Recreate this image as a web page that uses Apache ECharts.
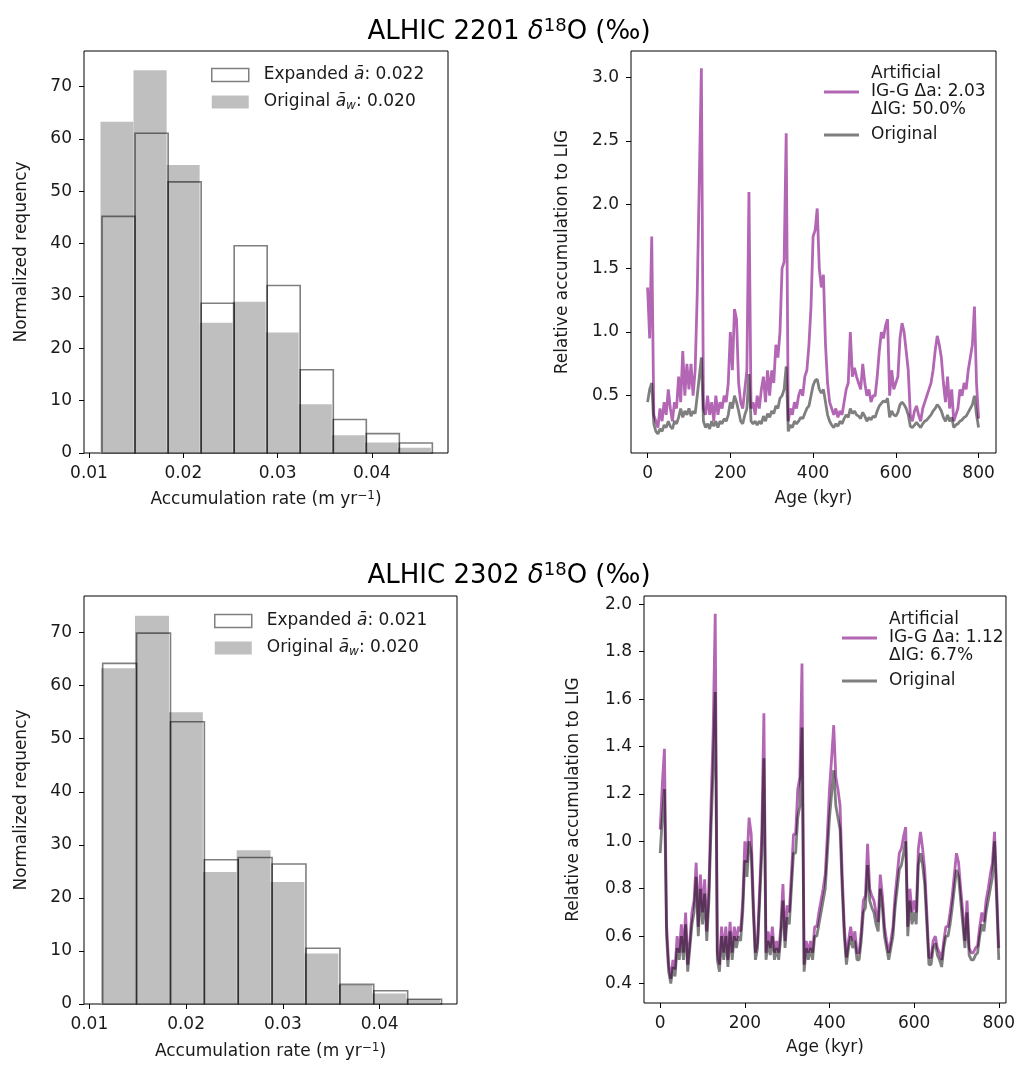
<!DOCTYPE html>
<html><head><meta charset="utf-8">
<script src="https://cdn.jsdelivr.net/npm/echarts@6/dist/echarts.min.js"></script>
<style>html,body{margin:0;padding:0;background:#fff}#c{width:1018px;height:1065px}</style>
</head><body><div id="c"></div>
<script>
// ---------- DATA ----------
// Histogram bin edges (accumulation rate, m/yr)
const origEdges = [0.01122,0.01472,0.01823,0.02173,0.02523,0.02873,0.03223,0.03574,0.03924,0.04274,0.04624];
const expEdges  = [0.01138,0.01488,0.01839,0.02189,0.02539,0.02889,0.03239,0.03590,0.03940,0.04290,0.04640];
// Normalized frequency per bin
const orig2201 = [63.3,73.1,55.0,24.9,28.9,23.0,9.3,3.4,2.0,1.0];
const exp2201  = [45.2,61.1,51.8,28.6,39.6,32.0,15.9,6.4,3.7,1.9];
const orig2302 = [63.3,73.2,55.0,24.9,29.0,23.0,9.5,3.6,2.0,0.9];
const exp2302  = [64.2,69.9,53.2,27.2,27.6,26.4,10.5,3.7,2.5,0.9];

// Age axis samples (kyr), 0..800 every 5 kyr
const AGE_STEP = 5;
// Relative accumulation to LIG, ALHIC 2201
const art2201 = [
1.35,0.95,1.75,0.35,0.3,0.25,0.4,0.3,0.45,0.35,
0.55,0.4,0.3,0.45,0.4,0.65,0.45,0.85,0.5,0.75,
0.55,0.75,0.5,0.7,1.3,2.2,3.07,0.4,0.35,0.5,
0.35,0.45,0.3,0.5,0.35,0.45,0.4,0.5,0.45,0.6,
1.0,0.7,1.18,1.1,0.6,0.45,0.4,0.55,0.7,2.1,
0.4,0.45,0.35,0.5,0.4,0.55,0.65,0.45,0.7,0.5,
0.7,0.6,0.9,0.8,1.0,1.5,1.55,2.56,0.3,0.4,
0.35,0.45,0.4,0.5,0.55,0.5,0.65,0.7,0.9,1.2,
1.75,1.8,1.97,1.5,1.35,1.45,0.9,0.6,0.45,0.4,
0.35,0.4,0.33,0.38,0.35,0.45,0.55,0.6,1.0,0.65,
0.72,0.65,0.6,0.55,0.75,0.6,0.5,0.55,0.45,0.5,
0.5,0.65,0.85,1.0,0.95,1.05,1.1,0.5,0.7,0.55,
0.6,0.65,0.95,1.07,1.0,0.85,0.7,0.35,0.3,0.38,
0.42,0.35,0.3,0.4,0.45,0.5,0.55,0.6,0.7,0.85,
0.97,0.9,0.8,0.6,0.45,0.65,0.4,0.55,0.3,0.35,
0.4,0.55,0.5,0.6,0.55,0.7,0.8,0.9,1.2,0.6,
0.32];
const orig2201Line = [
0.45,0.55,0.6,0.28,0.22,0.2,0.24,0.22,0.27,0.25,
0.3,0.26,0.24,0.3,0.28,0.33,0.4,0.33,0.38,0.35,
0.4,0.34,0.38,0.36,0.5,0.65,0.8,0.3,0.25,0.28,
0.24,0.3,0.26,0.3,0.25,0.3,0.28,0.32,0.3,0.35,
0.45,0.4,0.5,0.45,0.38,0.3,0.28,0.35,0.4,0.67,
0.3,0.28,0.3,0.27,0.3,0.28,0.34,0.3,0.36,0.33,
0.38,0.36,0.42,0.4,0.48,0.5,0.55,0.73,0.22,0.27,
0.25,0.3,0.28,0.3,0.33,0.32,0.36,0.4,0.42,0.5,
0.58,0.62,0.63,0.55,0.52,0.55,0.45,0.35,0.3,0.27,
0.25,0.28,0.26,0.3,0.28,0.32,0.35,0.33,0.4,0.36,
0.38,0.35,0.34,0.32,0.37,0.34,0.3,0.33,0.31,0.34,
0.33,0.38,0.42,0.44,0.46,0.45,0.48,0.33,0.38,0.35,
0.34,0.37,0.43,0.45,0.43,0.4,0.35,0.26,0.25,0.27,
0.29,0.27,0.25,0.28,0.3,0.31,0.33,0.35,0.38,0.4,
0.43,0.41,0.38,0.33,0.3,0.35,0.3,0.33,0.25,0.27,
0.28,0.3,0.31,0.33,0.34,0.37,0.4,0.43,0.5,0.35,
0.25];
// Relative accumulation to LIG, ALHIC 2302
const art2302 = [
1.05,1.24,1.39,0.65,0.48,0.42,0.5,0.46,0.6,0.53,
0.65,0.53,0.7,0.48,0.58,0.7,0.75,0.91,0.64,0.86,
0.7,0.84,0.62,0.8,1.15,1.45,1.96,0.53,0.48,0.64,
0.53,0.64,0.5,0.66,0.53,0.64,0.58,0.64,0.62,0.75,
1.0,0.91,1.1,1.03,0.75,0.53,0.58,0.8,1.03,1.54,
0.53,0.62,0.55,0.64,0.53,0.58,0.53,0.64,0.82,0.58,
0.73,0.7,0.86,1.03,1.03,1.22,1.27,1.75,0.48,0.58,
0.53,0.58,0.53,0.64,0.64,0.7,0.75,0.8,0.86,1.03,
1.22,1.35,1.49,1.27,1.22,1.15,0.86,0.64,0.51,0.58,
0.64,0.58,0.62,0.53,0.53,0.62,0.75,0.77,0.99,0.8,
0.77,0.75,0.7,0.66,0.86,0.77,0.64,0.58,0.53,0.58,
0.64,0.77,0.86,0.95,0.97,1.02,1.06,0.64,0.8,0.7,
0.75,0.7,0.97,1.04,0.97,0.88,0.7,0.51,0.51,0.58,
0.6,0.55,0.53,0.5,0.58,0.64,0.64,0.7,0.77,0.86,
0.95,0.91,0.8,0.7,0.58,0.75,0.55,0.53,0.53,0.55,
0.56,0.64,0.7,0.66,0.75,0.8,0.86,0.91,1.04,0.8,
0.55];
const orig2302Line = [
0.95,1.1,1.22,0.6,0.45,0.4,0.47,0.43,0.55,0.5,
0.6,0.5,0.65,0.45,0.55,0.65,0.7,0.85,0.6,0.8,
0.65,0.78,0.58,0.75,1.05,1.3,1.63,0.5,0.45,0.6,
0.5,0.6,0.47,0.62,0.5,0.6,0.55,0.6,0.58,0.7,
0.92,0.85,1.0,0.95,0.7,0.5,0.55,0.75,0.95,1.35,
0.5,0.58,0.52,0.6,0.5,0.55,0.5,0.6,0.75,0.55,
0.68,0.65,0.8,0.95,0.95,1.1,1.15,1.48,0.45,0.55,
0.5,0.55,0.5,0.6,0.6,0.65,0.7,0.75,0.8,0.95,
1.1,1.2,1.3,1.15,1.1,1.05,0.8,0.6,0.48,0.55,
0.6,0.55,0.58,0.5,0.5,0.58,0.7,0.72,0.9,0.75,
0.72,0.7,0.65,0.62,0.8,0.72,0.6,0.55,0.5,0.55,
0.6,0.72,0.8,0.88,0.9,0.95,1.0,0.6,0.75,0.65,
0.7,0.65,0.9,0.95,0.9,0.82,0.65,0.48,0.48,0.55,
0.57,0.52,0.5,0.47,0.55,0.6,0.6,0.65,0.72,0.8,
0.88,0.85,0.75,0.65,0.55,0.7,0.52,0.5,0.5,0.52,
0.53,0.6,0.65,0.62,0.7,0.75,0.8,0.85,1.0,0.75,
0.5];

// Tick values
const HIST_X_TICKS = [0.01,0.02,0.03,0.04];
const HIST_Y_TICKS = [0,10,20,30,40,50,60,70];
const AGE_TICKS = [0,200,400,600,800];
const REL_TICKS_2201 = [0.5,1.0,1.5,2.0,2.5,3.0];
const REL_TICKS_2302 = [0.4,0.6,0.8,1.0,1.2,1.4,1.6,1.8,2.0];

// Text
const LEGEND_TEXT = {
  exp2201: 'Expanded {i|ā}: 0.022',
  orig2201: 'Original {i|ā}{w|w}: 0.020',
  exp2302: 'Expanded {i|ā}: 0.021',
  orig2302: 'Original {i|ā}{w|w}: 0.020',
  art2201: 'Artificial\nIG-G Δa: 2.03\nΔIG: 50.0%',
  ol2201: 'Original',
  art2302: 'Artificial\nIG-G Δa: 1.12\nΔIG: 6.7%',
  ol2302: 'Original'
};

// ---------- BUILD ----------
const FONT = 'DejaVu Sans';
const TXT = '#1a1a1a';
const ages = art2201.map((_, i) => i * AGE_STEP);
const pairs = arr => arr.map((v, i) => [ages[i], v]);
const hist = (edges, vals) => vals.map((v, i) => [edges[i], edges[i + 1], v]);

const PURPLE = 'rgba(128,0,128,0.6)';
const GREYLINE = 'rgba(0,0,0,0.5)';
const FILL = '#bfbfbf';
const EDGE = 'rgba(0,0,0,0.5)';

function rectRender(style) {
  return function (params, api) {
    const a = api.coord([api.value(0), api.value(2)]);
    const b = api.coord([api.value(1), 0]);
    return { type: 'rect', shape: { x: a[0], y: a[1], width: b[0] - a[0], height: b[1] - a[1] }, style: style };
  };
}

const richName = {
  n: { fontFamily: FONT, fontSize: 17, color: TXT, lineHeight: 20 },
  s: { fontFamily: FONT, fontSize: 12, color: TXT, verticalAlign: 'top', lineHeight: 8 }
};

function valAxis(grid, min, max, ticks, fmt, name, gap) {
  return {
    type: 'value', gridIndex: grid, min: min, max: max,
    axisLine: { show: false, onZero: false },
    axisTick: { show: true, length: 5, customValues: ticks, lineStyle: { color: '#000', width: 1 } },
    axisLabel: { customValues: ticks, formatter: fmt, fontFamily: FONT, fontSize: 17, color: TXT, margin: 12 },
    splitLine: { show: false },
    name: name, nameLocation: 'middle', nameGap: gap,
    nameTextStyle: { fontFamily: FONT, fontSize: 17, color: TXT, rich: richName }
  };
}

const accName = '{n|Accumulation rate (m yr}{s|−1}{n|)}';
const legendText = {
  fontFamily: FONT, fontSize: 17, color: TXT, lineHeight: 20,
  rich: {
    i: { fontFamily: FONT, fontSize: 17, fontStyle: 'italic', color: TXT },
    w: { fontFamily: FONT, fontSize: 12, fontStyle: 'italic', color: TXT, verticalAlign: 'bottom' }
  }
};
const lineLegendText = { fontFamily: FONT, fontSize: 17, color: TXT, lineHeight: 18, padding: [0, 0, 0, 7] };

const titleRich = {
  n: { fontFamily: FONT, fontSize: 26, fontWeight: 'normal', color: '#000', lineHeight: 30 },
  d: { fontFamily: FONT, fontSize: 26, fontWeight: 'normal', fontStyle: 'italic', color: '#000', lineHeight: 30 },
  s: { fontFamily: FONT, fontSize: 18, fontWeight: 'normal', color: '#000', verticalAlign: 'top', lineHeight: 14 }
};

const option = {
  backgroundColor: '#fff',
  animation: false,
  title: [
    { text: '{n|ALHIC 2201 }{d|δ}{s|18}{n|O (‰)}', left: 'center', top: 12,
      textStyle: { fontWeight: 'normal', rich: titleRich } },
    { text: '{n|ALHIC 2302 }{d|δ}{s|18}{n|O (‰)}', left: 'center', top: 556,
      textStyle: { fontWeight: 'normal', rich: titleRich } }
  ],
  grid: [
    { left: 84, top: 51, width: 364, height: 402, show: true, borderColor: '#000', borderWidth: 1 },
    { left: 631, top: 51, width: 365, height: 402, show: true, borderColor: '#000', borderWidth: 1 },
    { left: 84, top: 596, width: 373, height: 408, show: true, borderColor: '#000', borderWidth: 1 },
    { left: 644, top: 596, width: 372, height: 407, show: true, borderColor: '#000', borderWidth: 1 }
  ],
  xAxis: [
    valAxis(0, 0.00947, 0.04806, HIST_X_TICKS, v => v.toFixed(2), accName, 37),
    valAxis(1, -40.1, 842.1, AGE_TICKS, v => String(v), 'Age (kyr)', 37),
    valAxis(2, 0.00945, 0.04800, HIST_X_TICKS, v => v.toFixed(2), accName, 38),
    valAxis(3, -38.3, 817, AGE_TICKS, v => String(v), 'Age (kyr)', 36)
  ],
  yAxis: [
    valAxis(0, 0, 76.8, HIST_Y_TICKS, v => String(v), 'Normalized requency', 54),
    valAxis(1, 0.0505, 3.206, REL_TICKS_2201, v => v.toFixed(1), 'Relative accumulation to LIG', 60),
    valAxis(2, 0, 76.9, HIST_Y_TICKS, v => String(v), 'Normalized requency', 54),
    valAxis(3, 0.318, 2.035, REL_TICKS_2302, v => v.toFixed(1), 'Relative accumulation to LIG', 62)
  ],
  legend: [
    { left: 211, top: 65, orient: 'vertical', padding: 0, itemWidth: 37, itemHeight: 13, itemGap: 7, selectedMode: false,
      data: [
        { name: 'exp2201', icon: 'rect', itemStyle: { color: '#fff', borderColor: EDGE, borderWidth: 1.5 } },
        { name: 'orig2201', icon: 'rect', itemStyle: { color: FILL, borderWidth: 0 } }
      ],
      formatter: n => LEGEND_TEXT[n], textStyle: Object.assign({ padding: [0, 0, 0, 10] }, legendText) },
    { left: 214, top: 611, orient: 'vertical', padding: 0, itemWidth: 37, itemHeight: 13, itemGap: 7, selectedMode: false,
      data: [
        { name: 'exp2302', icon: 'rect', itemStyle: { color: '#fff', borderColor: EDGE, borderWidth: 1.5 } },
        { name: 'orig2302', icon: 'rect', itemStyle: { color: FILL, borderWidth: 0 } }
      ],
      formatter: n => LEGEND_TEXT[n], textStyle: Object.assign({ padding: [0, 0, 0, 10] }, legendText) },
    { left: 824, top: 65, orient: 'vertical', padding: 0, itemWidth: 35, itemHeight: 3, itemGap: 7, selectedMode: false,
      data: [
        { name: 'art2201', icon: 'rect', itemStyle: { color: PURPLE } },
        { name: 'ol2201', icon: 'rect', itemStyle: { color: GREYLINE } }
      ],
      formatter: n => LEGEND_TEXT[n], textStyle: lineLegendText },
    { left: 842, top: 611, orient: 'vertical', padding: 0, itemWidth: 35, itemHeight: 3, itemGap: 7, selectedMode: false,
      data: [
        { name: 'art2302', icon: 'rect', itemStyle: { color: PURPLE } },
        { name: 'ol2302', icon: 'rect', itemStyle: { color: GREYLINE } }
      ],
      formatter: n => LEGEND_TEXT[n], textStyle: lineLegendText }
  ],
  series: [
    { type: 'custom', name: 'orig2201', xAxisIndex: 0, yAxisIndex: 0, data: hist(origEdges, orig2201),
      encode: { x: [0, 1], y: 2 }, renderItem: rectRender({ fill: FILL }), itemStyle: { color: FILL }, z: 2 },
    { type: 'custom', name: 'exp2201', xAxisIndex: 0, yAxisIndex: 0, data: hist(expEdges, exp2201),
      encode: { x: [0, 1], y: 2 }, renderItem: rectRender({ fill: 'none', stroke: EDGE, lineWidth: 1.6 }), itemStyle: { color: '#fff' }, z: 3 },
    { type: 'custom', name: 'orig2302', xAxisIndex: 2, yAxisIndex: 2, data: hist(origEdges, orig2302),
      encode: { x: [0, 1], y: 2 }, renderItem: rectRender({ fill: FILL }), itemStyle: { color: FILL }, z: 2 },
    { type: 'custom', name: 'exp2302', xAxisIndex: 2, yAxisIndex: 2, data: hist(expEdges, exp2302),
      encode: { x: [0, 1], y: 2 }, renderItem: rectRender({ fill: 'none', stroke: EDGE, lineWidth: 1.6 }), itemStyle: { color: '#fff' }, z: 3 },
    { type: 'line', name: 'art2201', xAxisIndex: 1, yAxisIndex: 1, data: pairs(art2201), showSymbol: false, symbol: 'none',
      lineStyle: { width: 2.8, color: PURPLE }, itemStyle: { color: PURPLE }, z: 2 },
    { type: 'line', name: 'ol2201', xAxisIndex: 1, yAxisIndex: 1, data: pairs(orig2201Line), showSymbol: false, symbol: 'none',
      lineStyle: { width: 2.8, color: GREYLINE }, itemStyle: { color: GREYLINE }, z: 3 },
    { type: 'line', name: 'art2302', xAxisIndex: 3, yAxisIndex: 3, data: pairs(art2302), showSymbol: false, symbol: 'none',
      lineStyle: { width: 2.8, color: PURPLE }, itemStyle: { color: PURPLE }, z: 2 },
    { type: 'line', name: 'ol2302', xAxisIndex: 3, yAxisIndex: 3, data: pairs(orig2302Line), showSymbol: false, symbol: 'none',
      lineStyle: { width: 2.8, color: GREYLINE }, itemStyle: { color: GREYLINE }, z: 3 }
  ]
};

const chart = echarts.init(document.getElementById('c'), null, { renderer: 'canvas', width: 1018, height: 1065 });
chart.setOption(option);
</script></body></html>
